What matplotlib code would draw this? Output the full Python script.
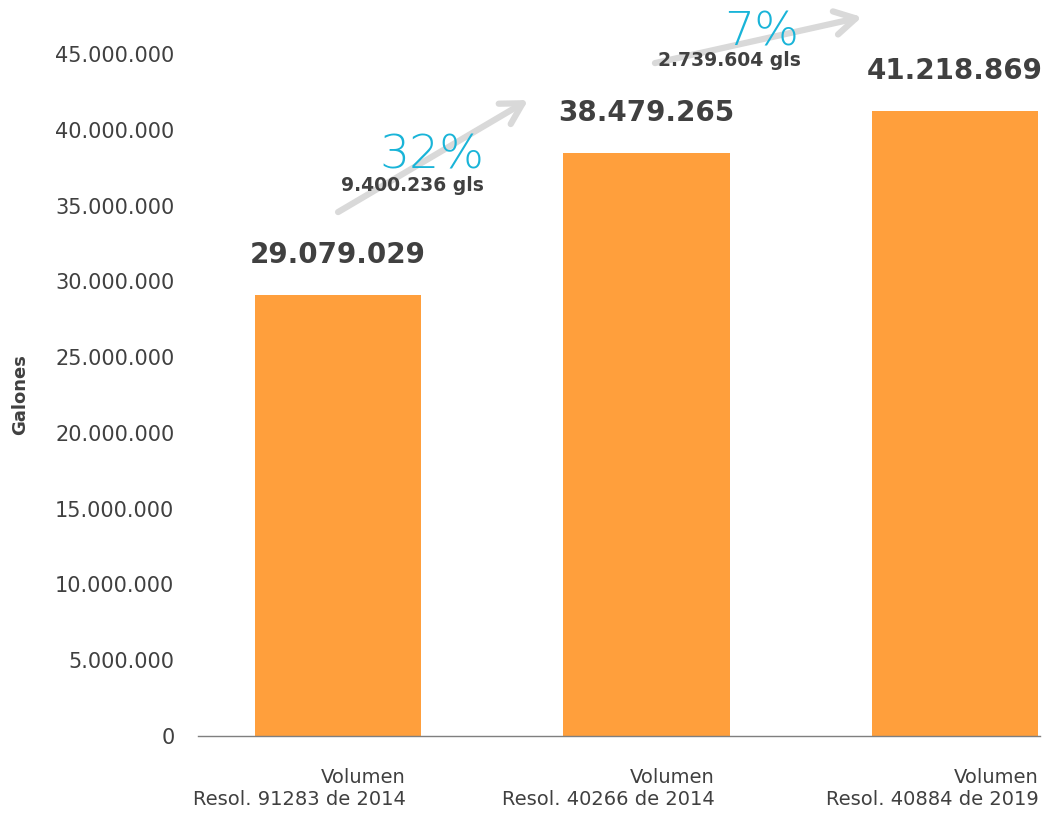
import matplotlib
matplotlib.use("Agg")
import matplotlib.pyplot as plt
from matplotlib.ticker import FuncFormatter

categories = ["Volumen\nResol. 91283 de 2014",
              "Volumen\nResol. 40266 de 2014",
              "Volumen\nResol. 40884 de 2019"]
values = [29079029, 38479265, 41218869]
diff_labels = ["9.400.236 gls", "2.739.604 gls"]
pct_labels = ["32%", "7%"]
yticks = [0, 5e6, 10e6, 15e6, 20e6, 25e6, 30e6, 35e6, 40e6, 45e6]

def fmt(v):
    return f"{int(round(v)):,}".replace(",", ".")

plt.rcParams['font.family'] = ['DejaVu Sans']
DARK = "#404040"
ORANGE = "#FF9F3C"
CYAN = "#19B4D8"

fig = plt.figure(figsize=(10.42, 8.13), dpi=100)
ax = fig.add_axes([198/1042, 1-736/813, (1040-198)/1042, (736-54)/813])

x = list(range(len(values)))
bars = ax.bar(x, values, width=0.54, color=ORANGE, zorder=2)
ax.set_xlim(-0.454, 2.275)
ax.set_ylim(0, 45e6)
ax.set_yticks(yticks)
ax.yaxis.set_major_formatter(FuncFormatter(lambda v, p: fmt(v)))
ax.tick_params(axis='y', length=0, labelsize=15, labelcolor=DARK, pad=17)
ax.set_xticks([])
for s in ["top", "right", "left"]:
    ax.spines[s].set_visible(False)
ax.spines["bottom"].set_color("#7f7f7f")
ax.spines["bottom"].set_linewidth(1)

ax.set_ylabel("Galones", fontsize=13, fontweight='bold', color=DARK, labelpad=19)

for xi, v in zip(x, values):
    ax.annotate(fmt(v), (xi, v), xytext=(0, 29), textcoords='offset points',
                ha='center', va='center', fontsize=20, fontweight='bold', color=DARK)

label_dx = [0.22, 0.22, 0.27]
for xi, c, dx in zip(x, categories, label_dx):
    ax.annotate(c, (xi + dx, 0), xytext=(0, -23), textcoords='offset points',
                ha='right', va='top', multialignment='right', fontsize=14,
                color=DARK, linespacing=1.2, annotation_clip=False)

# arrows between bars (layout positions)
arrows = [((0.0, 34.57e6), (0.616, 41.96e6)), ((1.027, 44.4e6), (1.698, 47.44e6))]
pct_pos = [(0.304, 38.3e6), (1.374, 46.45e6)]
diff_pos = [(0.24, 36.3e6), (1.267, 44.55e6)]
for (s, e), pl, pp, dl, dp in zip(arrows, pct_labels, pct_pos, diff_labels, diff_pos):
    ax.annotate("", xy=e, xytext=s, annotation_clip=False,
                arrowprops=dict(arrowstyle="->,head_length=1.5,head_width=0.85",
                                color="#D9D9D9", lw=4.5, shrinkA=0, shrinkB=0), zorder=3)
    ax.text(pp[0], pp[1], pl, ha='center', va='center', fontsize=34,
            fontweight='light', color=CYAN, clip_on=False, zorder=4)
    ax.text(dp[0], dp[1], dl, ha='center', va='center', fontsize=13.5,
            fontweight='bold', color=DARK, clip_on=False, zorder=5)

fig.savefig("out.png", dpi=100)
